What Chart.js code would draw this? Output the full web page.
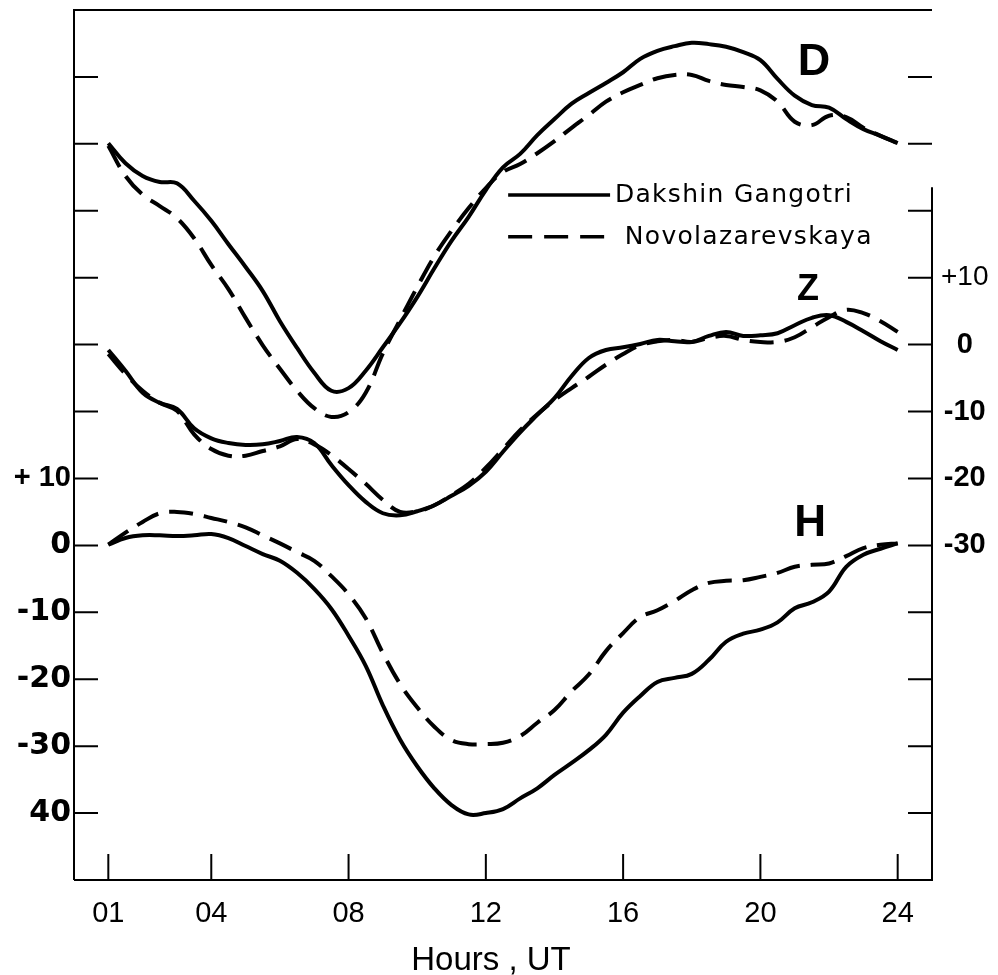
<!DOCTYPE html>
<html>
<head>
<meta charset="utf-8">
<script src="https://cdn.jsdelivr.net/npm/chart.js@4.4.1/dist/chart.umd.min.js"></script>
<style>
  html, body { margin: 0; padding: 0; background: #fff; }
  #wrap { width: 998px; height: 975px; position: relative; }
</style>
</head>
<body>
<div id="wrap"><canvas id="magChart"></canvas></div>
<script>
// =============================================
// Diurnal variation of D, Z, H — two stations
// =============================================

// x values, hours UT
const HOURS = [1, 1.5, 2, 2.5, 3, 3.5, 4, 4.5, 5, 5.5, 6, 6.5, 7, 7.5, 8, 8.5, 9, 9.5, 10, 10.5,
  11, 11.5, 12, 12.5, 13, 13.5, 14, 14.5, 15, 15.5, 16, 16.5, 17, 17.5, 18, 18.5, 19, 19.5, 20, 20.5,
  21, 21.5, 22, 22.5, 23, 23.5, 24];

// D (no labelled scale, drawn in the Z units)
const D_DAKSHIN = [30.1, 27.1, 25.2, 24.3, 24.1, 21.5, 18.5, 15.0, 11.6, 8.0,
  3.5, -0.5, -4.2, -6.9, -6.5, -3.9, -0.4, 3.2, 7.1, 11.4,
  15.5, 19.1, 23.1, 26.5, 28.5, 31.3, 33.7, 36.0, 37.6, 39.1,
  40.7, 42.7, 43.9, 44.6, 45.1, 44.9, 44.5, 43.7, 42.5, 39.7,
  37.2, 35.8, 35.4, 33.7, 32.2, 31.2, 30.1];
const D_NOVO = [29.7, 25.2, 22.4, 20.7, 18.9, 15.9, 11.9, 8.3, 4.0, -0.1,
  -3.6, -6.9, -9.5, -10.8, -10.1, -7.2, -1.3, 3.7, 8.6, 13.2,
  17.0, 20.4, 23.4, 25.8, 27.0, 28.6, 30.4, 32.4, 34.3, 36.3,
  37.7, 38.8, 39.8, 40.3, 40.3, 39.4, 38.8, 38.5, 38.0, 36.3,
  33.3, 32.8, 34.2, 34.0, 32.4, 31.2, 30.1];

// Z (right scale)
const Z_DAKSHIN = [-0.8, -3.9, -7.2, -8.7, -9.6, -12.5, -14.0, -14.7, -15.0, -14.9,
  -14.4, -13.8, -14.7, -18.0, -21.0, -23.5, -25.2, -25.5, -24.9, -24.0,
  -22.6, -21.1, -19.0, -16.0, -13.1, -10.5, -8.0, -4.7, -2.0, -0.8,
  -0.4, 0.1, 0.7, 0.5, 0.4, 1.3, 1.9, 1.3, 1.4, 1.7,
  2.9, 4.0, 4.4, 3.4, 2.0, 0.5, -0.8];
const Z_NOVO = [-1.4, -4.4, -6.9, -8.7, -9.9, -13.4, -15.6, -16.6, -16.6, -15.9,
  -15.2, -14.1, -14.9, -16.5, -18.6, -20.8, -23.2, -25.0, -24.9, -24.0,
  -22.5, -20.8, -18.4, -15.6, -12.8, -10.4, -8.3, -6.5, -4.8, -3.0,
  -1.4, -0.1, 0.5, 0.7, 0.4, 1.0, 1.3, 0.7, 0.4, 0.4,
  1.1, 2.6, 4.1, 5.2, 4.7, 3.5, 1.9];

// H (left scale)
const H_DAKSHIN = [0.1, 1.1, 1.5, 1.5, 1.4, 1.5, 1.7, 1.1, -0.1, -1.3,
  -2.3, -4.1, -6.5, -9.5, -13.5, -18.0, -23.9, -29.0, -33.0, -36.3,
  -38.8, -40.2, -40.0, -39.4, -37.8, -36.3, -34.3, -32.5, -30.6, -28.3,
  -25.0, -22.5, -20.4, -19.8, -19.2, -17.1, -14.4, -13.2, -12.6, -11.5,
  -9.4, -8.5, -6.9, -3.2, -1.4, -0.5, 0.3];
const H_NOVO = [0.1, 1.9, 3.5, 4.8, 5.0, 4.7, 4.1, 3.5, 2.7, 1.5,
  0.3, -1.0, -2.3, -4.6, -7.3, -10.9, -16.1, -20.7, -24.2, -27.1,
  -29.1, -29.7, -29.7, -29.5, -28.5, -26.5, -24.6, -21.8, -19.3, -15.8,
  -13.1, -10.7, -9.7, -8.3, -6.7, -5.6, -5.3, -5.2, -4.7, -4.1,
  -3.2, -2.9, -2.7, -1.6, -0.4, 0.1, 0.3];

// tick labels
const X_TICKS = [1, 4, 8, 12, 16, 20, 24];
const X_TICK_TEXT = ['01', '04', '08', '12', '16', '20', '24'];
const H_TICKS = [10, 0, -10, -20, -30, -40];
const H_TICK_TEXT = ['+ 10', '0', '-10', '-20', '-30', '40'];
const Z_TICKS = [10, 0, -10, -20, -30];
const Z_TICK_TEXT = ['+10', '0', '-10', '-20', '-30'];

const STATIONS = ['Dakshin Gangotri', 'Novolazarevskaya'];
const X_TITLE = 'Hours , UT';

const INK = '#000';
const DASH = [24, 11];
const SANS = '"Liberation Sans", Arial, sans-serif';
const WIDE = '"DejaVu Sans", sans-serif';

// ─────────────────────────────────────────
// helpers
// ─────────────────────────────────────────
function series(label, values, axis, dashed) {
  return {
    label,
    data: HOURS.map((h, i) => ({ x: h, y: values[i] })),
    yAxisID: axis,
    borderColor: INK,
    borderWidth: 4,
    borderDash: dashed ? DASH : [],
    pointRadius: 0,
    tension: 0.4,
    fill: false,
  };
}

function pickLabel(values, texts) {
  return v => {
    const i = values.indexOf(v);
    return i >= 0 ? texts[i] : '';
  };
}

const NO_GRID = { display: false, drawTicks: false };

// frame, inward ticks, component letters, legend, x title
const figureExtras = {
  id: 'figureExtras',
  afterDraw(chart) {
    const { ctx, chartArea: a, scales } = chart;
    const { x, yH, yZ, yD } = scales;
    ctx.save();
    ctx.strokeStyle = INK;
    ctx.fillStyle = INK;
    ctx.lineWidth = 2;

    // frame (right side starts below the top in the original)
    ctx.beginPath();
    ctx.moveTo(a.left, a.bottom);
    ctx.lineTo(a.left, a.top);
    ctx.lineTo(a.right, a.top);
    ctx.moveTo(a.right, yZ.getPixelForValue(23.5));
    ctx.lineTo(a.right, a.bottom);
    ctx.lineTo(a.left, a.bottom);
    ctx.stroke();

    // ticks pointing into the plot
    ctx.beginPath();
    yH.ticks.forEach(t => {
      if (t.value <= yH.min || t.value >= yH.max) return;
      const py = yH.getPixelForValue(t.value);
      ctx.moveTo(a.left, py); ctx.lineTo(a.left + 24, py);
    });
    yZ.ticks.forEach(t => {
      if (t.value <= yZ.min || t.value >= yZ.max) return;
      const py = yZ.getPixelForValue(t.value);
      ctx.moveTo(a.right - 24, py); ctx.lineTo(a.right, py);
    });
    X_TICKS.forEach(v => {
      const px = x.getPixelForValue(v);
      ctx.moveTo(px, a.bottom - 26); ctx.lineTo(px, a.bottom);
    });
    ctx.stroke();

    // component letters
    ctx.textAlign = 'center';
    ctx.textBaseline = 'middle';
    ctx.font = 'bold 45px ' + SANS;
    ctx.fillText('D', x.getPixelForValue(21.56), yD.getPixelForValue(42.1));
    ctx.font = 'bold 36px ' + SANS;
    ctx.fillText('Z', x.getPixelForValue(21.39), yZ.getPixelForValue(8.2));
    ctx.font = 'bold 44px ' + SANS;
    ctx.fillText('H', x.getPixelForValue(21.45), yH.getPixelForValue(3.2));

    // x axis title
    ctx.textBaseline = 'alphabetic';
    ctx.font = '33px ' + SANS;
    ctx.fillText(X_TITLE, x.getPixelForValue(12.15), chart.height - 5);

    // legend
    const lx0 = x.getPixelForValue(12.65);
    const lx1 = x.getPixelForValue(15.62);
    const ly = [yD.getPixelForValue(22.36), yD.getPixelForValue(16.1)];
    const tx = [x.getPixelForValue(15.76), x.getPixelForValue(16.05)];
    ctx.lineWidth = 3.5;
    STATIONS.forEach((name, i) => {
      ctx.setLineDash(i === 0 ? [] : [24, 12]);
      ctx.beginPath();
      ctx.moveTo(lx0, ly[i]); ctx.lineTo(lx1, ly[i]);
      ctx.stroke();
    });
    ctx.setLineDash([]);
    ctx.textAlign = 'left';
    ctx.textBaseline = 'middle';
    ctx.font = '25px ' + WIDE;
    ctx.letterSpacing = '1.3px';
    STATIONS.forEach((name, i) => ctx.fillText(name, tx[i], ly[i] + 1));
    ctx.restore();
  }
};

// ─────────────────────────────────────────
// CHART
// ─────────────────────────────────────────
Chart.defaults.color = INK;
Chart.defaults.font.family = SANS;

new Chart(document.getElementById('magChart'), {
  type: 'line',
  data: {
    datasets: [
      series('D ' + STATIONS[0], D_DAKSHIN, 'yD', false),
      series('D ' + STATIONS[1], D_NOVO, 'yD', true),
      series('Z ' + STATIONS[0], Z_DAKSHIN, 'yZ', false),
      series('Z ' + STATIONS[1], Z_NOVO, 'yZ', true),
      series('H ' + STATIONS[0], H_DAKSHIN, 'yH', false),
      series('H ' + STATIONS[1], H_NOVO, 'yH', true),
    ]
  },
  options: {
    responsive: true,
    maintainAspectRatio: false,
    animation: false,
    layout: { padding: { top: 10, left: 0, right: 0, bottom: 0 } },
    plugins: { legend: { display: false }, tooltip: { enabled: false } },
    scales: {
      x: {
        type: 'linear',
        min: 0, max: 25,
        grid: NO_GRID,
        border: { display: false },
        afterBuildTicks: s => { s.ticks = X_TICKS.map(v => ({ value: v })); },
        afterFit: s => { s.height = 95; s.paddingLeft = 0; s.paddingRight = 0; },
        ticks: {
          autoSkip: false, maxRotation: 0, padding: 17,
          font: { size: 29 },
          callback: pickLabel(X_TICKS, X_TICK_TEXT)
        }
      },
      yH: {
        position: 'left',
        min: -50, max: 80,
        grid: NO_GRID,
        border: { display: false },
        afterFit: s => { s.width = 74; s.paddingTop = 0; s.paddingBottom = 0; },
        ticks: {
          stepSize: 10, autoSkip: false, padding: 3,
          font: c => (c.tick && c.tick.value === 10)
            ? { family: SANS, size: 29, weight: 'bold' }
            : { family: WIDE, size: 30, weight: 'bold' },
          callback: pickLabel(H_TICKS, H_TICK_TEXT)
        }
      },
      yZ: {
        position: 'right',
        min: -80, max: 50,
        grid: NO_GRID,
        border: { display: false },
        afterFit: s => { s.width = 66; s.paddingTop = 0; s.paddingBottom = 0; },
        ticks: {
          stepSize: 10, autoSkip: false, padding: 9, crossAlign: 'center',
          font: c => (c.tick && c.tick.value === 10) ? { size: 28 } : { size: 29, weight: 'bold' },
          callback: pickLabel(Z_TICKS, Z_TICK_TEXT)
        }
      },
      yD: {
        display: false,
        min: -80, max: 50
      }
    }
  },
  plugins: [figureExtras]
});
</script>
</body>
</html>
